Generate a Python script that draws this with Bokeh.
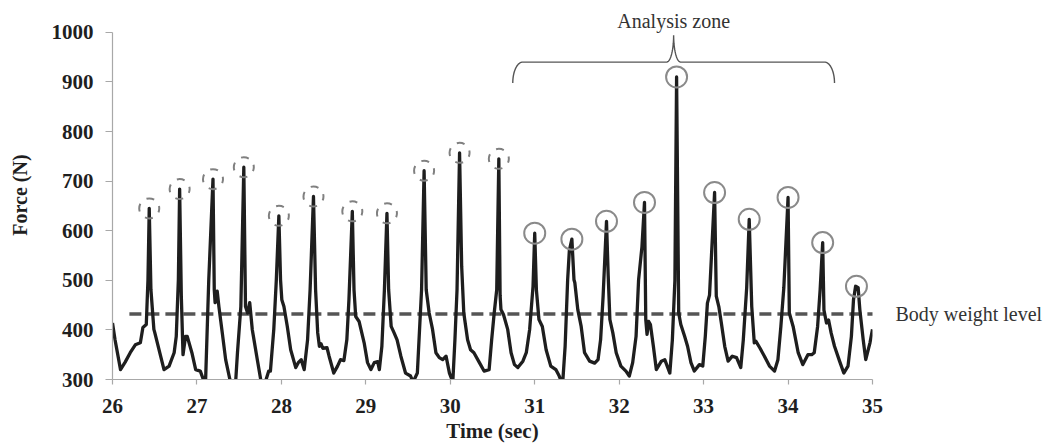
import numpy as np
from bokeh.plotting import figure
from bokeh.models import Range1d, SingleIntervalTicker, FixedTicker, LinearAxis
from bokeh.core.properties import value
from bokeh.embed import file_html
from bokeh.resources import INLINE

# ---- data ----
time_s = [26.00, 26.03, 26.095, 26.15, 26.21, 26.27, 26.33, 26.36, 26.40, 26.42, 26.435, 26.455, 26.49, 26.50,
          26.57, 26.61, 26.67, 26.73, 26.755, 26.78, 26.795, 26.815, 26.835, 26.865, 26.885, 26.94, 26.985,
          27.04, 27.08, 27.10, 27.14, 27.19, 27.205, 27.215, 27.24, 27.26, 27.30, 27.34, 27.39, 27.43, 27.46,
          27.48, 27.52, 27.555, 27.575, 27.60, 27.625, 27.655, 27.715, 27.755, 27.78, 27.81, 27.85, 27.87,
          27.91, 27.94, 27.97, 27.99, 28.005, 28.03, 28.07, 28.11, 28.17, 28.20, 28.235, 28.27, 28.31, 28.34,
          28.38, 28.405, 28.43, 28.45, 28.47, 28.49, 28.54, 28.565, 28.62, 28.665, 28.70, 28.74, 28.775, 28.80,
          28.84, 28.86, 28.88, 28.92, 28.98, 29.02, 29.06, 29.10, 29.14, 29.16, 29.19, 29.22, 29.25, 29.27,
          29.30, 29.335, 29.37, 29.415, 29.47, 29.53, 29.56, 29.61, 29.64, 29.66, 29.69, 29.715, 29.75, 29.79,
          29.83, 29.87, 29.91, 29.95, 29.99, 30.03, 30.055, 30.08, 30.11, 30.135, 30.16, 30.205, 30.24, 30.28,
          30.345, 30.40, 30.46, 30.49, 30.52, 30.55, 30.575, 30.59, 30.60, 30.63, 30.68, 30.72, 30.76, 30.80,
          30.86, 30.90, 30.94, 30.98, 31.00, 31.02, 31.05, 31.09, 31.135, 31.19, 31.25, 31.29, 31.33, 31.36,
          31.39, 31.41, 31.44, 31.465, 31.475, 31.51, 31.55, 31.59, 31.65, 31.71, 31.75, 31.78, 31.81, 31.85,
          31.87, 31.89, 31.925, 31.965, 32.02, 32.08, 32.12, 32.16, 32.20, 32.23, 32.27, 32.30, 32.315, 32.33,
          32.35, 32.37, 32.405, 32.44, 32.50, 32.54, 32.60, 32.63, 32.66, 32.68, 32.705, 32.73, 32.775, 32.81,
          32.85, 32.89, 32.95, 32.99, 33.02, 33.045, 33.07, 33.13, 33.15, 33.18, 33.21, 33.25, 33.29, 33.34,
          33.39, 33.44, 33.47, 33.51, 33.54, 33.57, 33.60, 33.62, 33.665, 33.72, 33.78, 33.84, 33.88, 33.915,
          33.95, 34.00, 34.015, 34.06, 34.12, 34.175, 34.235, 34.28, 34.31, 34.35, 34.38, 34.41, 34.425, 34.455,
          34.48, 34.51, 34.55, 34.61, 34.66, 34.71, 34.75, 34.775, 34.80, 34.83, 34.85, 34.89, 34.92, 34.97,
          35.00]
force_n = [414, 380, 320, 335, 354, 370, 374, 405, 411, 501, 645, 481, 401, 395,
           347, 320, 327, 354, 387, 501, 684, 468, 350, 387, 387, 354, 320,
           317, 298, 285, 501, 704, 481, 455, 478, 447, 394, 340, 300, 285, 300,
           354, 447, 728, 447, 434, 455, 401, 340, 300, 280, 295, 317, 317,
           401, 501, 630, 501, 461, 447, 407, 360, 324, 334, 340, 320, 380, 481,
           669, 481, 394, 367, 372, 363, 364, 347, 313, 327, 340, 338, 380, 461,
           639, 481, 427, 417, 374, 334, 320, 334, 336, 320, 367, 481, 635, 481,
           407, 394, 380, 347, 313, 307, 295, 313, 414, 481, 721, 481, 434, 401,
           354, 344, 340, 347, 313, 295, 380, 481, 757, 528, 434, 380, 360, 354,
           334, 317, 320, 380, 434, 481, 745, 470, 441, 431, 401, 354, 330, 324,
           337, 354, 401, 488, 595, 480, 421, 407, 360, 327, 320, 307, 290, 367,
           501, 560, 583, 501, 495, 441, 407, 354, 337, 333, 340, 380, 468, 619,
           510, 421, 394, 354, 327, 317, 307, 334, 387, 501, 568, 657, 421, 391,
           417, 411, 367, 320, 337, 340, 313, 380, 500, 910, 434, 411, 387, 367,
           334, 317, 330, 327, 387, 454, 470, 677, 468, 447, 414, 367, 337, 347,
           344, 324, 380, 485, 623, 447, 374, 377, 364, 347, 327, 317, 340, 407,
           485, 667, 434, 407, 354, 330, 350, 350, 354, 407, 481, 576, 440, 414,
           420, 394, 367, 337, 313, 327, 387, 461, 488, 485, 441, 380, 340, 374,
           401]

pre_zone_peak_t = [26.435, 26.795, 27.19, 27.555, 27.97, 28.38, 28.84, 29.25, 29.69, 30.11, 30.575]
pre_zone_peak_f = [645, 684, 704, 728, 630, 669, 639, 635, 721, 757, 745]
zone_peak_t = [31.00, 31.44, 31.85, 32.30, 32.68, 33.13, 33.54, 34.00, 34.41, 34.81]
zone_peak_f = [595, 583, 619, 657, 910, 677, 623, 667, 576, 488]

body_weight_n = 432
zone_start_s, zone_end_s = 30.74, 34.55

x_label = "Time (sec)"
y_label = "Force (N)"
zone_text = "Analysis zone"
bw_text = "Body weight level"

SERIF = "Liberation Serif"

# ---- figure ----
p = figure(width=1054, height=445, x_range=Range1d(26, 35), y_range=Range1d(300, 1044),
           output_backend="svg", toolbar_location=None,
           min_border_left=112, min_border_right=182, min_border_top=10, min_border_bottom=64)
p.outline_line_color = None
p.xgrid.visible = False
p.ygrid.visible = False
p.background_fill_color = "white"
p.border_fill_color = "white"

for ax in (p.xaxis[0], p.yaxis[0]):
    ax.axis_line_color = "#a8a8a8"
    ax.axis_line_width = 1.2
    ax.major_tick_line_color = "#a8a8a8"
    ax.major_tick_line_width = 1.2
    ax.minor_tick_line_color = None
    ax.major_tick_in = 0
    ax.major_label_text_font = SERIF
    ax.major_label_text_font_style = "bold"
    ax.major_label_text_font_size = "21px"
    ax.major_label_text_color = "#1f1f1f"
    ax.axis_label_text_font = SERIF
    ax.axis_label_text_font_style = "bold"
    ax.axis_label_text_color = "#1f1f1f"

p.xaxis[0].ticker = SingleIntervalTicker(interval=1)
p.xaxis[0].major_tick_out = 5
p.xaxis[0].major_label_standoff = 14
p.xaxis[0].axis_label = x_label
p.xaxis[0].axis_label_text_font_size = "21px"
p.xaxis[0].axis_label_standoff = 3

p.yaxis[0].ticker = SingleIntervalTicker(interval=100)
p.yaxis[0].bounds = (300, 1000)
p.yaxis[0].major_tick_out = 7
p.yaxis[0].major_label_standoff = 12
p.yaxis[0].axis_label = y_label
p.yaxis[0].axis_label_text_font_size = "20px"
p.yaxis[0].axis_label_standoff = 18

# right-side text for the body weight level
bw_axis = LinearAxis(ticker=FixedTicker(ticks=[body_weight_n]),
                     major_label_overrides={body_weight_n: bw_text},
                     axis_line_color=None, major_tick_line_color=None, minor_tick_line_color=None,
                     major_tick_out=0, major_tick_in=0, major_label_standoff=23,
                     major_label_text_font=SERIF, major_label_text_font_size="20px",
                     major_label_text_color="#333333")
p.add_layout(bw_axis, "right")

# body weight level
p.line([26.2, 35.06], [body_weight_n, body_weight_n], line_color="#555555", line_width=3.5,
       line_dash="12 6")

# force trace
p.line(time_s, force_n, line_color="#1e1e1e", line_width=3.3, line_join="round")

# peak markers
p.scatter(pre_zone_peak_t, pre_zone_peak_f, marker="circle", size=20, fill_color=None,
          line_color="#808080", line_width=2, line_dash=value("8 8"), line_dash_offset=4)
p.scatter(zone_peak_t, zone_peak_f, marker="circle", size=21, fill_color=None,
          line_color="#8a8a8a", line_width=2)

# brace for analysis zone (shape in pixels, converted to data units)
px_x = 1 / 84.33
px_y = 1 / 0.4986
base = 940
xc = (zone_start_s + zone_end_s) / 2
th1 = np.linspace(np.pi, np.pi / 2, 20)
end_x = 10 + 10 * np.cos(th1)
end_y = -21 + 21 * np.sin(th1)
th2 = np.linspace(-np.pi / 2, 0, 20)
cusp_x = -7 + 7 * np.cos(th2)
cusp_y = 27 + 27 * np.sin(th2)
left_x = np.concatenate([zone_start_s + end_x * px_x, xc + cusp_x * px_x])
left_y = np.concatenate([base + end_y * px_y, base + cusp_y * px_y])
right_x = 2 * xc - left_x[::-1]
right_y = left_y[::-1]
p.line(np.concatenate([left_x, right_x]), np.concatenate([left_y, right_y]),
       line_color="#555555", line_width=1.4)

p.text([xc], [1023], text=[zone_text], text_font=value(SERIF), text_font_size="20px",
       text_color="#333333", text_align="center", text_baseline="middle")

open("out.html", "w").write(file_html(p, INLINE))
